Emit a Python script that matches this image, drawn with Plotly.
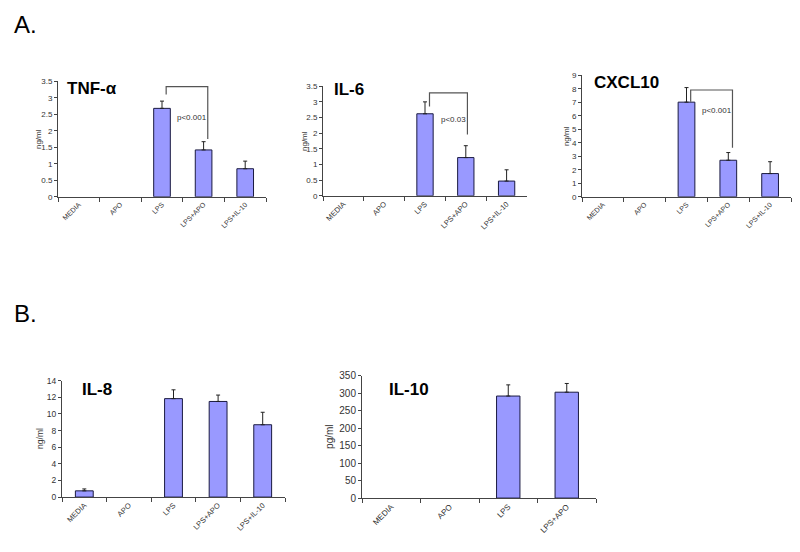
import plotly.graph_objects as go

cats5 = ["MEDIA", "APO", "LPS", "LPS+APO", "LPS+IL-10"]
cats4 = ["MEDIA", "APO", "LPS", "LPS+APO"]

tnf_vals = [0, 0, 2.68, 1.42, 0.85]
tnf_err = [0, 0, 0.22, 0.25, 0.23]
il6_vals = [0, 0, 2.62, 1.22, 0.47]
il6_err = [0, 0, 0.38, 0.38, 0.36]
cxcl10_vals = [0, 0, 7.02, 2.71, 1.72]
cxcl10_err = [0, 0, 1.08, 0.57, 0.88]
il8_vals = [0.75, 0, 11.84, 11.5, 8.7]
il8_err = [0.23, 0, 1.06, 0.77, 1.5]
il10_vals = [0, 0, 292, 303]
il10_err = [0, 0, 32, 25]

panels = [
    # name, cats, vals, err, unit, ymax, dtick, xdom(px), ydom(px top,bottom)
    ("TNF-α", cats5, tnf_vals, tnf_err, "ng/ml", 3.5, 0.5, (58, 266), (77, 195)),
    ("IL-6", cats5, il6_vals, il6_err, "ng/ml", 3.5, 0.5, (323, 527), (82, 194)),
    ("CXCL10", cats5, cxcl10_vals, cxcl10_err, "ng/ml", 9, 1, (582, 791), (71, 195)),
    ("IL-8", cats5, il8_vals, il8_err, "ng/ml", 14, 2, (62, 285), (383, 502)),
    ("IL-10", cats4, il10_vals, il10_err, "pg/ml", 350, 50, (362, 596), (378, 503)),
]

W, H = 800, 552
FONT = "Liberation Sans, Arial, sans-serif"
fig = go.Figure()
annotations = []
shapes = []

title_pos = [(65, 84), (332, 85), (592, 78), (80, 392), (387, 392)]
ylab_x = [38, 304, 566, 40, 330]
ytick_size = [8, 8, 8, 8.5, 10]
xtick_size = [7, 7.5, 7, 7.5, 8]
ylab_size = [8, 8, 8, 8.5, 10]

for i, (name, cats, vals, err, unit, ymax, dt, xd, yd) in enumerate(panels):
    n = i + 1
    xa = "xaxis" if n == 1 else f"xaxis{n}"
    ya = "yaxis" if n == 1 else f"yaxis{n}"
    xr = "x" if n == 1 else f"x{n}"
    yr = "y" if n == 1 else f"y{n}"
    shown = [v if v else None for v in vals]
    fig.add_trace(go.Bar(
        x=cats, y=shown, xaxis=xr, yaxis=yr,
        marker=dict(color="#9999FF", line=dict(color="#1a1a40", width=1)),
        error_y=dict(type="data", array=err, arrayminus=[0] * len(err), symmetric=False,
                     color="#222222", thickness=1, width=2),
        showlegend=False, hoverinfo="skip",
    ))
    fig.layout[xa] = dict(
        domain=[xd[0] / W, xd[1] / W], anchor=yr,
        type="category", categoryorder="array", categoryarray=cats,
        range=[-0.5, len(cats) - 0.5],
        showline=True, linecolor="#444", linewidth=1,
        ticks="outside", tickson="boundaries", ticklen=4, tickcolor="#444",
        tickangle=-45, tickfont=dict(size=xtick_size[i], color="#333", family=FONT),
        showgrid=False, fixedrange=True,
    )
    fig.layout[ya] = dict(
        domain=[1 - yd[1] / H, 1 - yd[0] / H], anchor=xr,
        range=[0, ymax], dtick=dt, tick0=0,
        showline=True, linecolor="#444", linewidth=1,
        ticks="outside", ticklen=3, tickcolor="#444",
        tickfont=dict(size=ytick_size[i], color="#333", family=FONT),
        showgrid=False, zeroline=False, fixedrange=True,
    )
    tx, ty = title_pos[i]
    annotations.append(dict(
        text=f"<b>{name}</b>", x=tx / W, y=1 - ty / H, xref="paper", yref="paper",
        xanchor="left", yanchor="middle", showarrow=False,
        font=dict(size=17, color="black", family=FONT)))
    annotations.append(dict(
        text=unit, x=ylab_x[i] / W, y=1 - (yd[0] + yd[1]) / 2 / H, xref="paper", yref="paper",
        textangle=-90, showarrow=False, xanchor="center", yanchor="middle",
        font=dict(size=ylab_size[i], color="#333", family=FONT)))

# significance brackets: (panel, x_left, x_right, y_top, y_left_bottom, y_right_bottom, label, label_y)
brackets = [
    (1, 2.1, 3.1, 3.34, 3.1, 1.75, "p<0.001", 2.4),
    (2, 2.11, 3.04, 3.29, 2.85, 1.96, "p<0.03", 2.44),
    (3, 2.1, 3.1, 7.92, 7.05, 3.63, "p<0.001", 6.37),
]
for n, xl, xrr, yt, ylb, yrb, lab, ly in brackets:
    xr = "x" if n == 1 else f"x{n}"
    yr = "y" if n == 1 else f"y{n}"
    pts = [(xl, ylb), (xl, yt), (xrr, yt), (xrr, yrb)]
    path = "M " + " L ".join(f"{a},{b}" for a, b in pts)
    shapes.append(dict(type="path", path=path, xref=xr, yref=yr,
                       line=dict(color="#555", width=1.2)))
    annotations.append(dict(text=lab, x=(xl + xrr) / 2 + 0.12, y=ly, xref=xr, yref=yr,
                            showarrow=False, font=dict(size=8, color="#333", family=FONT)))

annotations.append(dict(text="A.", x=12 / W, y=1 - 19 / H, xref="paper", yref="paper",
                        xanchor="left", yanchor="middle", showarrow=False,
                        font=dict(size=24, color="black", family=FONT)))
annotations.append(dict(text="B.", x=12 / W, y=1 - 314 / H, xref="paper", yref="paper",
                        xanchor="left", yanchor="middle", showarrow=False,
                        font=dict(size=24, color="black", family=FONT)))

fig.update_layout(
    width=W, height=H, margin=dict(l=0, r=0, t=0, b=0),
    paper_bgcolor="white", plot_bgcolor="white",
    bargap=0.6, annotations=annotations, shapes=shapes,
    font=dict(family=FONT),
)
fig.write_html("out.html", config={"displayModeBar": False},
               post_script="document.body.style.margin='0';")
